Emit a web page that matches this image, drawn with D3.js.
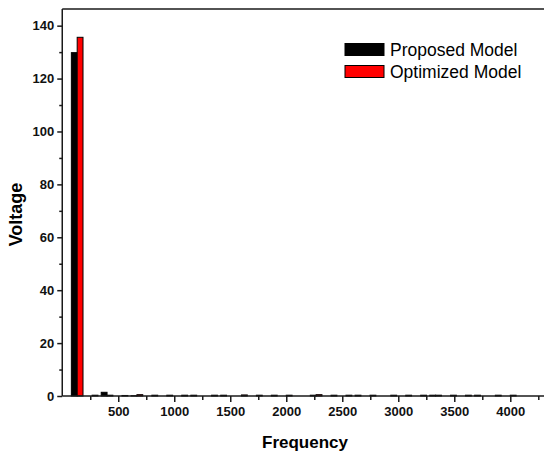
<!DOCTYPE html>
<html>
<head>
<meta charset="utf-8">
<script src="https://cdn.jsdelivr.net/npm/d3@7"></script>
<style>
  html, body { margin: 0; padding: 0; background: #fff; }
  svg { display: block; }
  text { font-family: Arial, "Liberation Sans", sans-serif; }
</style>
</head>
<body>
<svg id="chart" width="544" height="454"></svg>
<script>
// Harmonic frequencies (Hz) and voltage amplitude of each model
const frequencies = [133.3, 266.7, 400, 533.3, 666.7, 800, 933.3, 1066.7, 1200, 1333.3,
  1466.7, 1600, 1733.3, 1866.7, 2000, 2133.3, 2266.7, 2400, 2533.3, 2666.7,
  2800, 2933.3, 3066.7, 3200, 3333.3, 3466.7, 3600, 3733.3, 3866.7, 4000];
const proposedModel = [129.8, 0, 1.4, 0, 0.1, 0, 0, 0, 0.3, 0,
  0.3, 0, 0, 0, 0, 0, 0.3, 0, 0, 0.3,
  0.3, 0, 0, 0, 0.3, 0, 0, 0.3, 0, 0];
const optimizedModel = [135.6, 0.3, 0.3, 0.2, 0.5, 0.3, 0.3, 0.3, 0, 0.3,
  0, 0.4, 0.3, 0.3, 0.3, 0, 0.5, 0.3, 0.3, 0,
  0, 0.3, 0.3, 0.3, 0.3, 0.3, 0.3, 0, 0.3, 0.3];
const seriesNames = ["Proposed Model", "Optimized Model"];
const seriesColors = ["#000000", "#ff0000"];
const xMajorTicks = [500, 1000, 1500, 2000, 2500, 3000, 3500, 4000];
const xMinorTicks = [250, 750, 1250, 1750, 2250, 2750, 3250, 3750, 4250];
const yMajorTicks = [0, 20, 40, 60, 80, 100, 120, 140];
const yMinorTicks = [10, 30, 50, 70, 90, 110, 130];

const svg = d3.select("#chart");
const plotLeft = 62.25, plotRight = 544, plotTop = 9, plotBottom = 396;
const barSpan = 52; // width of each column in Hz

const x = d3.scaleLinear().domain([0, 4301]).range([plotLeft, plotRight]);
const y = d3.scaleLinear().domain([0, 146.3]).range([plotBottom, plotTop]);

// Columns: two side by side at each harmonic
const series = [proposedModel, optimizedModel];
series.forEach((vals, s) => {
  svg.append("g")
    .selectAll("rect")
    .data(frequencies.map((f, i) => ({ f, v: vals[i] })).filter(d => d.v > 0))
    .join("rect")
    .attr("x", d => s === 0 ? x(d.f - barSpan) : x(d.f))
    .attr("width", d => x(d.f + barSpan) - x(d.f))
    .attr("y", d => y(d.v))
    .attr("height", d => y(0) - y(d.v))
    .attr("fill", seriesColors[s])
    .attr("stroke", "#000")
    .attr("stroke-width", 1);
});

const axisColor = "#1a1a1a";
const styleAxis = g => {
  g.selectAll("path, line").attr("stroke", axisColor).attr("stroke-width", 1.5);
  g.selectAll("text")
    .attr("fill", "#111")
    .style("font-size", "13px")
    .style("font-weight", "bold")
    .style("font-family", "Arial, 'Liberation Sans', sans-serif");
};

// X axis
const gx = svg.append("g").attr("transform", `translate(0,${plotBottom})`)
  .call(d3.axisBottom(x).tickValues(xMajorTicks).tickSize(6).tickSizeOuter(0).tickPadding(4.5).tickFormat(d3.format("d")))
  .call(styleAxis);
gx.select(".domain").attr("d", `M${plotLeft},0H${plotRight}`);
svg.append("g").attr("transform", `translate(0,${plotBottom})`)
  .call(d3.axisBottom(x).tickValues(xMinorTicks).tickSize(4).tickFormat(""))
  .call(g => g.select(".domain").remove())
  .call(styleAxis);

// Y axis
svg.append("g").attr("transform", `translate(${plotLeft},0)`)
  .call(d3.axisLeft(y).tickValues(yMajorTicks).tickSize(5).tickSizeOuter(0).tickPadding(3))
  .call(styleAxis)
  .call(g => g.select(".domain").attr("d", `M0,${plotBottom}V${plotTop}`));
svg.append("g").attr("transform", `translate(${plotLeft},0)`)
  .call(d3.axisLeft(y).tickValues(yMinorTicks).tickSize(3).tickFormat(""))
  .call(g => g.select(".domain").remove())
  .call(styleAxis);

// Top frame line
svg.append("line")
  .attr("x1", plotLeft).attr("x2", plotRight)
  .attr("y1", plotTop).attr("y2", plotTop)
  .attr("stroke", axisColor).attr("stroke-width", 1.5);

// Axis titles
svg.append("text")
  .attr("transform", `translate(22,${(plotTop + plotBottom) / 2 + 12}) rotate(-90)`)
  .attr("text-anchor", "middle")
  .style("font-size", "18px").style("font-weight", "bold")
  .text("Voltage");
svg.append("text")
  .attr("x", 305).attr("y", 448)
  .attr("text-anchor", "middle")
  .style("font-size", "17px").style("font-weight", "bold")
  .text("Frequency");

// Legend
const legend = svg.append("g");
seriesNames.forEach((name, i) => {
  const cy = 49.5 + i * 22;
  legend.append("rect")
    .attr("x", 345).attr("y", cy - 6)
    .attr("width", 39).attr("height", 12)
    .attr("fill", seriesColors[i])
    .attr("stroke", "#000").attr("stroke-width", 1);
  legend.append("text")
    .attr("x", 390).attr("y", cy + 6.5)
    .style("font-size", "17.5px")
    .text(name);
});
</script>
</body>
</html>
